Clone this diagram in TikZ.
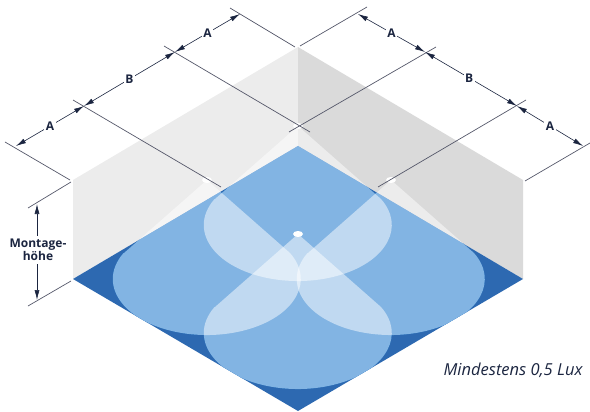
\documentclass[tikz,border=0pt]{standalone}
\usepackage{fontspec}
\setmainfont{Open Sans}
\usetikzlibrary{arrows.meta,shapes.geometric}
\definecolor{wallleft}{HTML}{ECECEC}
\definecolor{wallright}{HTML}{DADADA}
\definecolor{floorblue}{HTML}{2D69B1}
\definecolor{lobeblue}{HTML}{0569C7}
\definecolor{inkdark}{HTML}{1B2540}
\definecolor{ticklin}{HTML}{55586A}
\newcommand{\lobe}[2]{%
 (#1-83,#2+73) -- (#1,#2) -- (#1+83,#2+73)
 arc[start angle=-27.7,end angle=207.7,x radius=94,y radius=56] -- cycle}
\begin{document}
\begin{tikzpicture}[x=1pt,y=-1pt]
 \tikzstyle{ticklong}=[ticklin,line width=0.7pt]
 \tikzstyle{dimen}=[{Latex[length=10pt,width=5pt]}-{Latex[length=10pt,width=5pt]},inkdark,line width=0.6pt]
 \tikzstyle{dimlabel}=[fill=white,inner sep=1.5pt,text=inkdark,font=\fontsize{12}{12}\selectfont\bfseries]
 \tikzstyle{lamp}=[ellipse,fill=white,minimum width=10pt,minimum height=6pt,inner sep=0pt]
 \tikzstyle{glow}=[white,fill opacity=0.5]
 \useasboundingbox (0,0) rectangle (590,412);
 % walls and floor
 \fill[wallleft] (73,180) -- (298,47) -- (298,146) -- (73,279) -- cycle;
 \fill[wallright] (298,47) -- (523,180) -- (523,279) -- (298,146) -- cycle;
 \fill[floorblue] (298,146) -- (523,279) -- (298,411) -- (73,279) -- cycle;
 % light cones
 \begin{scope}
  \clip (298,146) -- (523,279) -- (298,411) -- (73,279) -- cycle;
  \fill[lobeblue] \lobe{298}{126};
  \fill[lobeblue] \lobe{207}{180};
  \fill[lobeblue] \lobe{391}{180};
  \fill[lobeblue] \lobe{298}{234};
 \end{scope}
 \begin{scope}
  \clip (73,180) -- (298,47) -- (523,180) -- (523,279) -- (298,411) -- (73,279) -- cycle;
  \fill[glow] \lobe{298}{126};
  \fill[glow] \lobe{207}{180};
  \fill[glow] \lobe{391}{180};
  \fill[glow] \lobe{298}{234};
 \end{scope}
 \node[lamp] (L1) at (298,126) {};
 \node[lamp] (L2) at (207,180) {};
 \node[lamp] (L3) at (391,180) {};
 \node[lamp] (L4) at (298,234) {};
 % left side
 \coordinate (a1) at (5,142);
 \coordinate (a2) at (70,180);
 \coordinate (b1) at (73,100);
 \coordinate (b2) at (221,187);
 \coordinate (c1) at (164,46);
 \coordinate (c2) at (310,132);
 \coordinate (d1) at (230,8);
 \coordinate (d2) at (295,47);
 \draw[ticklong] (a1)--(a2);
 \draw[ticklong] (b1)--(b2);
 \draw[ticklong] (c1)--(c2);
 \draw[ticklong] (d1)--(d2);
 \coordinate (m1) at (16,146);
 \coordinate (m2) at (84,106);
 \coordinate (m3) at (175,52);
 \coordinate (m4) at (240,14);
 \draw[dimen] (m1)-- node[dimlabel] {A} (m2);
 \draw[dimen] (m2)-- node[dimlabel] {B} (m3);
 \draw[dimen] (m3)-- node[dimlabel] {A} (m4);
 % right side
 \coordinate (e1) at (367,7);
 \coordinate (e2) at (300,46);
 \coordinate (f1) at (436,47);
 \coordinate (f2) at (289,132);
 \coordinate (g1) at (526,100);
 \coordinate (g2) at (378,187);
 \coordinate (h1) at (590,143);
 \coordinate (h2) at (525,181);
 \draw[ticklong] (e1)--(e2);
 \draw[ticklong] (f1)--(f2);
 \draw[ticklong] (g1)--(g2);
 \draw[ticklong] (h1)--(h2);
 \coordinate (n1) at (358,14);
 \coordinate (n2) at (425,52);
 \coordinate (n3) at (517,106);
 \coordinate (n4) at (583,146);
 \draw[dimen] (n1)-- node[dimlabel] {A} (n2);
 \draw[dimen] (n2)-- node[dimlabel,pos=0.48] {B} (n3);
 \draw[dimen] (n3)-- node[dimlabel] {A} (n4);
 % height
 \coordinate (p1) at (28,208);
 \coordinate (p2) at (71,182);
 \coordinate (q1) at (28,306);
 \coordinate (q2) at (71,281);
 \draw[ticklong] (p1)--(p2);
 \draw[ticklong] (q1)--(q2);
 \coordinate (v1) at (37,204);
 \coordinate (v2) at (37,300);
 \draw[dimen] (v1)-- node[dimlabel,align=center,inner sep=3pt,pos=0.48,xshift=1pt] {Montage-\\[1pt]höhe} (v2);
 \node[text=inkdark,font=\fontsize{16.5}{16.5}\selectfont\itshape,anchor=east] (lux) at (586,370) {Mindestens 0,5 Lux};
\end{tikzpicture}
\end{document}
